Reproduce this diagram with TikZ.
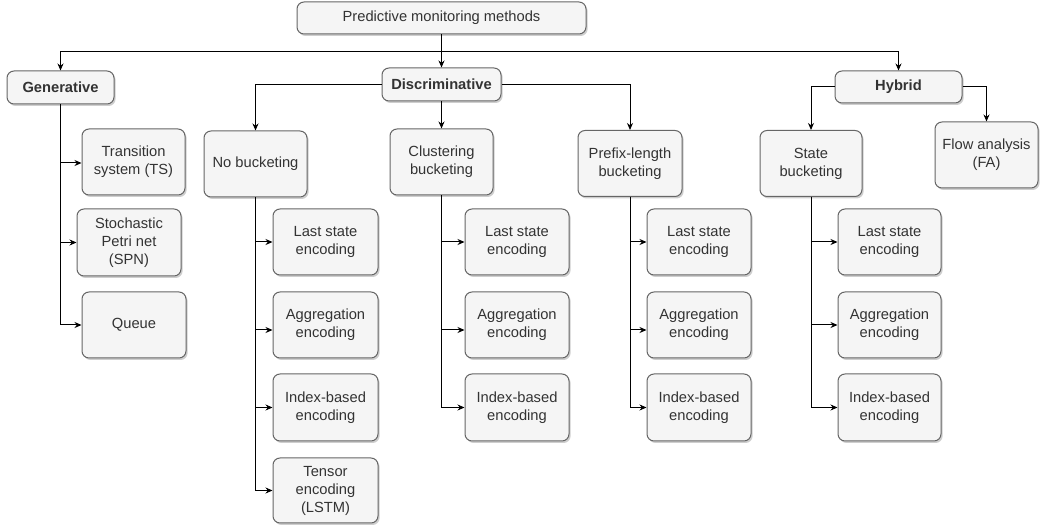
\documentclass[tikz,border=0pt]{standalone}
\usepackage{fontspec}
\setmainfont{Liberation Sans}
\usetikzlibrary{arrows.meta,shadows}
\definecolor{boxfill}{HTML}{F5F5F5}
\definecolor{boxline}{HTML}{666666}
\definecolor{boxtext}{HTML}{333333}
\tikzset{
  box/.style={draw=boxline, fill=boxfill, text=boxtext, line width=1pt,
    rounded corners=7pt, align=center, inner sep=2pt,
    font=\fontsize{14.7pt}{18pt}\selectfont,
    drop shadow={shadow xshift=1.6pt, shadow yshift=-2pt, opacity=0.35, fill=black!55}},
  bbox/.style={box, font=\fontsize{14.7pt}{18pt}\selectfont\bfseries},
  conn/.style={draw=black, line width=1pt, -{Stealth[length=7pt,width=6pt]}},
}
\begin{document}
\begin{tikzpicture}[x=1pt,y=-1pt]
\useasboundingbox (0,0) rectangle (1045,526);
% top level
\node[box, minimum width=289, minimum height=32] (top) at (441.5,18) {Predictive monitoring methods};
\node[bbox, minimum width=107, minimum height=33] (gen) at (60.5,87.5) {Generative};
\node[bbox, minimum width=119, minimum height=33] (disc) at (441.5,84.5) {Discriminative};
\node[bbox, minimum width=127, minimum height=32] (hyb) at (898.5,87) {Hybrid};
% second level
\node[box, minimum width=103, minimum height=66] (ts) at (133.5,162) {Transition\\system (TS)};
\node[box, minimum width=104, minimum height=67] (spn) at (129,242.5) {Stochastic\\Petri net\\(SPN)};
\node[box, minimum width=104, minimum height=66] (queue) at (134,325) {Queue};
\node[box, minimum width=103, minimum height=66] (nob) at (255.5,164) {No bucketing};
\node[box, minimum width=103, minimum height=66] (clu) at (441.5,162) {Clustering\\bucketing};
\node[box, minimum width=104, minimum height=66] (pre) at (630,163.5) {Prefix-length\\bucketing};
\node[box, minimum width=102, minimum height=66] (sta) at (811,163.5) {State\\bucketing};
\node[box, minimum width=103, minimum height=66] (fa) at (986.5,155) {Flow analysis\\(FA)};
% no bucketing children
\node[box, minimum width=105, minimum height=66] (nls) at (325.5,242) {Last state\\encoding};
\node[box, minimum width=105, minimum height=66] (nag) at (325.5,325) {Aggregation\\encoding};
\node[box, minimum width=105, minimum height=67] (nib) at (325.5,407.5) {Index-based\\encoding};
\node[box, minimum width=105, minimum height=65] (nte) at (325.5,490.5) {Tensor\\encoding\\(LSTM)};
% clustering children
\node[box, minimum width=104, minimum height=66] (cls) at (517,242) {Last state\\encoding};
\node[box, minimum width=104, minimum height=66] (cag) at (517,325) {Aggregation\\encoding};
\node[box, minimum width=104, minimum height=67] (cib) at (517,407.5) {Index-based\\encoding};
% prefix-length children
\node[box, minimum width=104, minimum height=66] (pls) at (699,242) {Last state\\encoding};
\node[box, minimum width=104, minimum height=66] (pag) at (699,325) {Aggregation\\encoding};
\node[box, minimum width=104, minimum height=67] (pib) at (699,407.5) {Index-based\\encoding};
% state children
\node[box, minimum width=103, minimum height=66] (sls) at (889.5,242) {Last state\\encoding};
\node[box, minimum width=103, minimum height=66] (sag) at (889.5,325) {Aggregation\\encoding};
\node[box, minimum width=103, minimum height=67] (sib) at (889.5,407.5) {Index-based\\encoding};
% connectors
\coordinate (bus) at (441.5,52);
\draw[conn] (top.south) -- (disc.north);
\draw[conn] (bus) -| (gen.north);
\draw[conn] (bus) -| (hyb.north);
\draw[conn] (disc.west) -| (nob.north);
\draw[conn] (disc.east) -| (pre.north);
\draw[conn] (disc.south) -- (clu.north);
\draw[conn] (hyb.west) -| (sta.north);
\draw[conn] (hyb.east) -| (fa.north);
\draw[conn] (gen.south) |- ([yshift=-1pt]ts.west);
\draw[conn] (gen.south) |- (spn.west);
\draw[conn] (gen.south) |- (queue.west);
\draw[conn] (nob.south) |- (nls.west);
\draw[conn] (nob.south) |- ([yshift=-5pt]nag.west);
\draw[conn] (nob.south) |- (nib.west);
\draw[conn] (nob.south) |- (nte.west);
\draw[conn] (clu.south) |- (cls.west);
\draw[conn] (clu.south) |- ([yshift=-5pt]cag.west);
\draw[conn] (clu.south) |- (cib.west);
\draw[conn] (pre.south) |- (pls.west);
\draw[conn] (pre.south) |- ([yshift=-5pt]pag.west);
\draw[conn] (pre.south) |- (pib.west);
\draw[conn] (sta.south) |- (sls.west);
\draw[conn] (sta.south) |- (sag.west);
\draw[conn] (sta.south) |- (sib.west);
\end{tikzpicture}
\end{document}
